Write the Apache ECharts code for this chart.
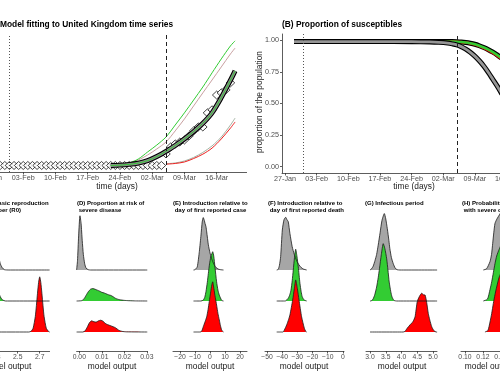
<!DOCTYPE html>
<html><head><meta charset="utf-8">
<script src="https://cdn.jsdelivr.net/npm/echarts@6/dist/echarts.min.js"></script>
<style>html,body{margin:0;padding:0;background:#fff}#c{width:500px;height:375px}</style>
</head><body><div id="c"></div>
<script>
// ---------- DATA ----------
// day 0 = 27 January
const dateTickDays = [0, 7, 14, 21, 28, 35, 42, 49];
const dateTickLabels = ['27-Jan', '03-Feb', '10-Feb', '17-Feb', '24-Feb', '02-Mar', '09-Mar', '16-Mar'];
const firstCaseDay = 4;
const interventionDay = 38;

// Panel A: observed cumulative cases
const obsDays = [0,1,2,3,4,5,6,7,8,9,10,11,12,13,14,15,16,17,18,19,20,21,22,23,24,25,26,27,28,29,30,31,32,33,34,35,36,37,38,39,40,41,42,43,44,45,46,47,48,49,50,51,52];
const obsCases = [0,0,0,0,0,0,0,0,0,0,0,0,0,0,0,0,0,0,0,0,0,0,0,0,0,0,0,0,0,0,0,0,0,0,0,0,0,0,265,425,495,540,585,680,795,885,885,1210,1280,1620,1670,1740,1900];
// Panel A: model curves
const fitDays = [26,28,30,32,34,36,38,40,42,44,46,48,50,52,53];
const upperGreen = [10,35,58,150,310,470,655,930,1210,1505,1805,2130,2450,2750,2865];
const upperRose = [10,35,58,127,240,380,540,795,1070,1370,1670,1965,2265,2565,2700];
const fitCentral = [0,8,25,55,110,205,325,460,610,780,970,1210,1560,1960,2175];
const lowerDays = [38,40,42,44,46,48,50,52,53];
const lowerRed = [30,46,80,160,260,400,610,860,1000];
const lowerGrey = [40,58,103,185,300,450,655,930,1090];

// Panel B: proportion of susceptibles
const bDays = [2,10,20,28,32,34,36,37,38,39,40,41,42,43,44,45,46,47,48,49,50];
const bGreen = [0.99,0.99,0.99,0.99,0.99,0.99,0.99,0.99,0.989,0.987,0.983,0.977,0.969,0.957,0.943,0.926,0.906,0.883,0.857,0.828,0.795];
const bRed = [0.99,0.99,0.99,0.99,0.99,0.99,0.99,0.99,0.989,0.986,0.982,0.975,0.966,0.954,0.939,0.921,0.901,0.877,0.85,0.82,0.786];
const bGrey = [0.99,0.99,0.99,0.989,0.987,0.984,0.978,0.972,0.964,0.95,0.93,0.905,0.875,0.838,0.795,0.745,0.69,0.635,0.575,0.515,0.455];
const bTicks = [0, 0.25, 0.5, 0.75, 1];

// Ridge densities [value, height]
const cGrey = [[2.10,0],[2.15,0.05],[2.19,0.6],[2.23,1.5],[2.26,1.75],[2.29,1.3],[2.32,0.6],[2.34,0.22],[2.36,0.07],[2.38,0.01],[2.42,0],[2.79,0]];
const cGreen = [[2.10,0],[2.16,0.1],[2.22,0.5],[2.27,0.7],[2.31,0.45],[2.34,0.15],[2.36,0.04],[2.39,0],[2.79,0]];
const cRed = [[2.10,0],[2.60,0],[2.62,0.02],[2.64,0.12],[2.66,0.5],[2.67,0.85],[2.68,1.25],[2.69,1.6],[2.70,1.78],[2.71,1.6],[2.72,1.25],[2.73,0.85],[2.74,0.5],[2.76,0.12],[2.78,0.02],[2.79,0]];
const dGrey = [[-0.0012,0],[-0.0008,0.3],[-0.0003,1.1],[0.0003,1.75],[0.0008,1.5],[0.0013,0.95],[0.0018,0.5],[0.0024,0.2],[0.003,0.06],[0.004,0.01],[0.005,0],[0.0302,0]];
const dGreen = [[-0.0012,0],[0.001,0.01],[0.002,0.06],[0.003,0.18],[0.004,0.3],[0.005,0.38],[0.006,0.4],[0.007,0.38],[0.008,0.35],[0.009,0.32],[0.010,0.28],[0.011,0.26],[0.012,0.23],[0.013,0.2],[0.014,0.18],[0.015,0.14],[0.016,0.09],[0.017,0.06],[0.018,0.04],[0.020,0.02],[0.022,0.01],[0.025,0.003],[0.0302,0]];
const dRed = [[-0.0012,0],[0.0015,0],[0.0025,0.03],[0.0035,0.15],[0.0045,0.3],[0.0055,0.36],[0.0065,0.33],[0.0075,0.32],[0.0085,0.36],[0.0095,0.38],[0.0105,0.35],[0.0115,0.28],[0.0125,0.24],[0.014,0.2],[0.016,0.14],[0.0175,0.06],[0.019,0.02],[0.021,0.005],[0.0302,0]];
const eGrey = [[-11,0],[-10,0.01],[-8.5,0.1],[-7.1,0.6],[-6,1.13],[-5.2,1.55],[-4.5,1.69],[-3.8,1.6],[-3.3,1.5],[-2.7,1.4],[-2.2,1.23],[-1.1,0.81],[0,0.55],[1,0.38],[2,0.25],[3,0.15],[4,0.08],[5.5,0.03],[7,0.01],[9,0]];
const eGreen = [[-11,0],[-6,0],[-4.5,0.03],[-3.5,0.12],[-2.7,0.3],[-1.8,0.6],[-1.1,0.89],[-0.3,1.2],[0.5,1.42],[1.2,1.52],[1.8,1.59],[2.5,1.45],[3.3,1.1],[4.4,0.62],[5.3,0.35],[6.2,0.19],[7.8,0.02],[9,0]];
const eRed = [[-11,0],[-6.5,0],[-5.5,0.03],[-4.5,0.17],[-3.3,0.33],[-2.2,0.49],[-1.3,0.72],[-0.5,0.98],[0.5,1.3],[1.2,1.52],[1.8,1.62],[2.6,1.4],[3.5,1.12],[4.4,0.87],[5.3,0.6],[6.2,0.39],[7,0.2],[7.8,0.06],[9,0]];
const fGrey = [[-43.6,0],[-42.6,0.02],[-41.8,0.15],[-41,0.43],[-39.9,1.29],[-38.8,1.62],[-37.7,1.7],[-36.8,1.62],[-36,1.56],[-34.9,1.18],[-33.4,0.75],[-32,0.5],[-30.5,0.3],[-29,0.17],[-27.5,0.08],[-26,0.03],[-23.9,0]];
const fGreen = [[-43.6,0],[-38,0],[-36,0.09],[-35,0.2],[-34.2,0.35],[-33.4,0.65],[-32.7,1.0],[-31.9,1.4],[-31.1,1.67],[-30.3,1.45],[-29.4,1.1],[-28.3,0.57],[-27.5,0.3],[-26.8,0.14],[-25.5,0.03],[-23.9,0]];
const fRed = [[-43.6,0],[-39.5,0],[-38.6,0.06],[-37,0.23],[-35.8,0.4],[-34.9,0.55],[-33.1,1.03],[-32,1.4],[-31.1,1.68],[-30,1.4],[-28.9,1.03],[-27.2,0.49],[-25.4,0.12],[-24.5,0.02],[-23.9,0]];
const gGrey = [[3.0,0],[3.05,0.04],[3.1,0.12],[3.16,0.31],[3.21,0.5],[3.26,0.8],[3.32,1.2],[3.38,1.6],[3.455,1.82],[3.5,1.65],[3.55,1.33],[3.6,0.95],[3.63,0.69],[3.68,0.4],[3.74,0.2],[3.8,0.06],[3.86,0.01],[3.95,0],[5.13,0]];
const gGreen = [[3.0,0],[3.05,0.01],[3.1,0.07],[3.15,0.2],[3.21,0.45],[3.26,0.75],[3.3,1.04],[3.36,1.5],[3.42,1.85],[3.47,1.7],[3.53,1.36],[3.57,1.0],[3.61,0.61],[3.66,0.3],[3.7,0.13],[3.76,0.02],[3.85,0],[5.13,0]];
const gRed = [[3.0,0],[4.05,0],[4.11,0.02],[4.18,0.12],[4.27,0.23],[4.36,0.33],[4.43,0.49],[4.5,0.98],[4.57,1.15],[4.64,1.25],[4.7,1.2],[4.75,1.19],[4.8,0.95],[4.85,0.6],[4.9,0.38],[4.96,0.17],[5.03,0.04],[5.1,0],[5.13,0]];
const hGrey = [[0.1204,0],[0.124,0.04],[0.1278,0.27],[0.1295,0.5],[0.1308,0.86],[0.132,1.2],[0.1333,1.5],[0.135,1.62],[0.137,1.72],[0.14,1.85],[0.145,1.5],[0.155,0.6],[0.165,0.1],[0.175,0]];
const hGreen = [[0.1204,0],[0.125,0.06],[0.1278,0.37],[0.1297,0.62],[0.1315,0.91],[0.1333,1.2],[0.1352,1.45],[0.138,1.67],[0.142,1.9],[0.15,1.3],[0.16,0.4],[0.175,0]];
const hRed = [[0.1222,0],[0.1255,0.05],[0.1278,0.32],[0.1297,0.6],[0.1315,0.92],[0.1333,1.2],[0.1352,1.45],[0.138,1.77],[0.142,2.0],[0.15,1.3],[0.16,0.4],[0.175,0]];

// ---------- CHART ----------
const FONT = '"Liberation Sans", Arial, Helvetica, sans-serif';
const tickColor = '#4d4d4d', axisColor = '#333';
const GREY = '#a6a6a6', GREEN = '#33cc33', RED = '#ff0000';
const zip = (xs, ys) => xs.map((x, i) => [x, ys[i]]);
const minus = s => String(s).replace('-', '\u2212');

const grids = [], xAxes = [], yAxes = [], series = [];

function xAxisDef(idx, min, max, ticks, fmt, fontSize) {
  return {
    gridIndex: idx, type: 'value', min, max,
    axisLine: {show: true, onZero: false, lineStyle: {color: axisColor, width: 0.8}},
    axisTick: {show: true, customValues: ticks, length: 2.5, lineStyle: {color: axisColor, width: 0.8}},
    axisLabel: {show: true, customValues: ticks, formatter: fmt, fontSize, color: tickColor, margin: 3, fontFamily: FONT},
    splitLine: {show: false}
  };
}

// Panel A
grids.push({left: -9, top: 35, width: 255.6, height: 137, outerBoundsMode: 'none'});
xAxes.push(xAxisDef(0, 0, 55.5, dateTickDays, v => dateTickLabels[dateTickDays.indexOf(Math.round(v))] || '', 7.2));
yAxes.push({gridIndex: 0, type: 'value', min: -150, max: 3000, show: false, splitLine: {show: false}});
const vlines = {
  silent: true, symbol: ['none', 'none'], label: {show: false}, animation: false,
  data: [
    {xAxis: firstCaseDay, lineStyle: {type: [1, 2], color: '#555', width: 1}},
    {xAxis: interventionDay, lineStyle: {type: [4, 3], color: '#222', width: 1}}
  ]
};
const lineA = (data, color, width, extra) => Object.assign({type: 'line', xAxisIndex: 0, yAxisIndex: 0, data, symbol: 'none', smooth: 0.3, lineStyle: {color, width}}, extra || {});
series.push(lineA(zip(fitDays, upperRose), '#c8a0a0', 1, {markLine: vlines}));
series.push(lineA(zip(fitDays, upperGreen), GREEN, 1));
series.push(lineA(zip(lowerDays, lowerGrey), '#a3b3a3', 1));
series.push(lineA(zip(lowerDays, lowerRed), '#ee2020', 1));
series.push(lineA(zip(fitDays, fitCentral), '#000', 5));
series.push(lineA(zip(fitDays, fitCentral), '#8c8c8c', 2.8));
series.push(lineA(zip(fitDays, fitCentral), GREEN, 1));
series.push({type: 'scatter', xAxisIndex: 0, yAxisIndex: 0, data: zip(obsDays, obsCases), symbol: 'diamond', symbolSize: [8.5, 8],
  itemStyle: {color: '#fff', borderColor: '#000', borderWidth: 0.9}});

// Panel B
grids.push({left: 282, top: 34, width: 229, height: 139, outerBoundsMode: 'none'});
xAxes.push(xAxisDef(1, -0.66, 50, dateTickDays, v => dateTickLabels[dateTickDays.indexOf(Math.round(v))] || '', 7.2));
yAxes.push({gridIndex: 1, type: 'value', min: -0.05, max: 1.05,
  axisLine: {show: true, onZero: false, lineStyle: {color: axisColor, width: 0.8}},
  axisTick: {show: true, customValues: bTicks, length: 2, lineStyle: {color: axisColor, width: 0.8}},
  axisLabel: {show: true, customValues: bTicks, formatter: v => v.toFixed(2), fontSize: 7.2, color: tickColor, margin: 3, fontFamily: FONT},
  splitLine: {show: false}});
const lineB = (data, color, width, extra) => Object.assign({type: 'line', xAxisIndex: 1, yAxisIndex: 1, data, symbol: 'none', smooth: 0.3, lineStyle: {color, width}}, extra || {});
series.push(lineB(zip(bDays, bGreen), '#000', 5, {markLine: vlines}));
series.push(lineB(zip(bDays, bRed), RED, 2.5));
series.push(lineB(zip(bDays, bGreen), GREEN, 2.5));
series.push(lineB(zip(bDays, bGrey), '#000', 5));
series.push(lineB(zip(bDays, bGrey), '#969696', 2.8));

// Ridge panels
function ridgePanel(left, width, min, max, ticks, fmt, ridges) {
  const idx = grids.length;
  grids.push({left, top: 210, width, height: 141, outerBoundsMode: 'none'});
  xAxes.push(xAxisDef(idx, min, max, ticks, fmt, 6.8));
  yAxes.push({gridIndex: idx, type: 'value', min: -0.6129, max: 3.9355, show: false, splitLine: {show: false}});
  ridges.forEach(r => series.push({
    type: 'line', xAxisIndex: idx, yAxisIndex: idx, symbol: 'none', smooth: 0.2,
    data: r[0].map(p => [p[0], p[1] + r[2]]),
    lineStyle: {color: '#1a1a1a', width: 0.8},
    areaStyle: {color: r[1], opacity: 1, origin: r[2]}
  }));
}
ridgePanel(-26.3, 75.9, 2.10, 2.79, [2.3, 2.5, 2.7], v => v.toFixed(1), [[cGrey, GREY, 2], [cGreen, GREEN, 1], [cRed, RED, 0]]);
ridgePanel(76.6, 70.65, -0.0012, 0.0302, [0, 0.01, 0.02, 0.03], v => v.toFixed(2), [[dGrey, GREY, 2], [dGreen, GREEN, 1], [dRed, RED, 0]]);
ridgePanel(173, 74, -24.67, 24.67, [-20, -10, 0, 10, 20], v => minus(v), [[eGrey, GREY, 2], [eGreen, GREEN, 1], [eRed, RED, 0]]);
ridgePanel(265, 79, -51.3, 0.7, [-50, -40, -30, -20, -10, 0], v => minus(v), [[fGrey, GREY, 2], [fGreen, GREEN, 1], [fRed, RED, 0]]);
ridgePanel(366, 71, 2.873, 5.127, [3, 3.5, 4, 4.5, 5], v => v.toFixed(1), [[gGrey, GREY, 2], [gGreen, GREEN, 1], [gRed, RED, 0]]);
ridgePanel(461, 71.5, 0.0956, 0.175, [0.10, 0.12, 0.14, 0.16], v => v.toFixed(2), [[hGrey, GREY, 2], [hGreen, GREEN, 1], [hRed, RED, 0]]);

// Texts
const T = (x, y, text, font, extra) => Object.assign({type: 'text', x, y, silent: true,
  style: Object.assign({text, font, fill: '#000', align: 'left', verticalAlign: 'middle'}, (extra && extra.style) || {})},
  extra ? {rotation: extra.rotation || 0} : {});
const titleFont = 'bold 8.4px ' + FONT, subFont = 'bold 6px ' + FONT, nameFont = '8.4px ' + FONT;
const graphics = [
  T(-14, 25, '(A) Model fitting to United Kingdom time series', titleFont),
  T(282, 25, '(B) Proportion of susceptibles', titleFont),
  T(117, 187, 'time (days)', nameFont, {style: {align: 'center', fill: '#1a1a1a'}}),
  T(414, 187, 'time (days)', nameFont, {style: {align: 'center', fill: '#1a1a1a'}}),
  T(260, 102, 'proportion of the population', nameFont, {rotation: Math.PI / 2, style: {align: 'center', fill: '#1a1a1a'}})
];
const subTitles = [
  [-16, '(C) Basic reproduction\n number (R0)'],
  [77, '(D) Proportion at risk of\n severe disease'],
  [173, '(E) Introduction relative to\n day of first reported case'],
  [268, '(F) Introduction relative to\n day of first reported death'],
  [365, '(G) Infectious period'],
  [462, '(H) Probability of dying\n with severe disease']
];
subTitles.forEach(s => graphics.push(T(s[0], 199.5, s[1], subFont, {style: {verticalAlign: 'top', lineHeight: 7}})));
[7, 112, 210, 304, 402, 489].forEach(x => graphics.push(T(x, 367, 'model output', nameFont, {style: {align: 'center', fill: '#1a1a1a'}})));

const chart = echarts.init(document.getElementById('c'), null, {renderer: 'canvas', width: 500, height: 375});
chart.setOption({
  animation: false,
  backgroundColor: '#fff',
  textStyle: {fontFamily: FONT},
  grid: grids, xAxis: xAxes, yAxis: yAxes, series,
  graphic: graphics
});
</script></body></html>
